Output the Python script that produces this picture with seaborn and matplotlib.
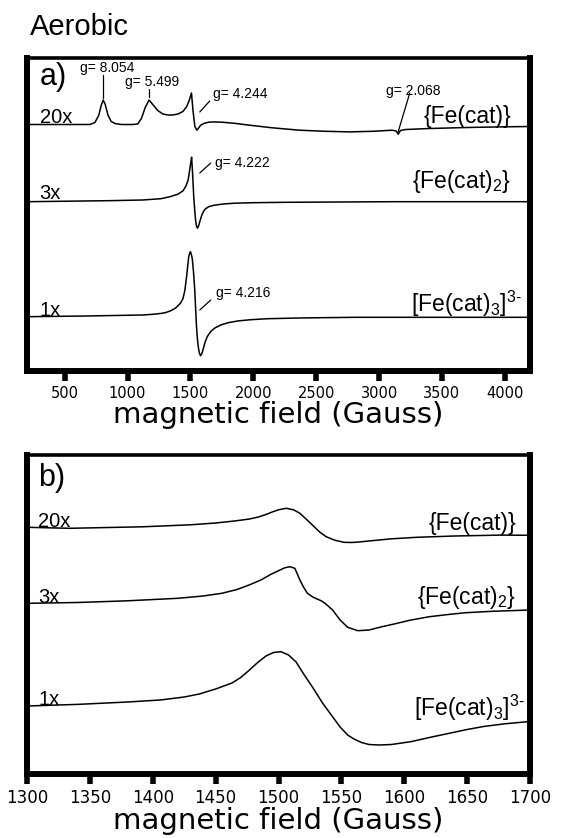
import matplotlib.pyplot as plt
import seaborn as sns

# ---- panel a: full sweep (field in Gauss, intensity in arbitrary units) ----
field_a20 = [200, 500, 700, 740, 770, 790, 806, 822, 845, 870, 900, 950, 1040, 1080,
             1110, 1140, 1171, 1200, 1240, 1280, 1320, 1360, 1400, 1440, 1470, 1490,
             1508, 1520, 1535, 1551, 1565, 1580, 1610, 1640, 1680, 1750, 1850, 1970, 2150,
             2367, 2550, 2763, 2950, 3104, 3135, 3152, 3170, 3212, 3400, 3700, 3951, 4200]
int_a20 = [0, 0, 0, 2, 9, 19, 24.5, 20, 9, 3, 1, 0, 0, 0.5,
           6, 17, 24.5, 20, 14, 10.5, 9.5, 9.5, 10.5, 13, 18, 24,
           31.5, 14, -2, -5.7, -3.5, -0.8, 1.2, 2.2, 2.6, 2.3, 1.2, -0.7, -3.3,
           -5.7, -6.7, -7.4, -6.8, -5.7, -6.5, -9.7, -6, -5, -4, -3, -2.4, -2]

field_a3 = [200, 840, 1120, 1265, 1337, 1400, 1442, 1465, 1482, 1494, 1501, 1509,
            1516, 1526, 1534, 1541, 1548, 1556, 1565, 1575, 1590, 1605, 1620, 1645,
            1690, 1760, 1850, 2000, 2257, 3107, 4200]
int_a3 = [0, 1, 1.7, 3, 5, 7.5, 11, 16, 22, 32, 38, 44.5,
          30, 5, -9, -19, -24.5, -26.5, -24, -19.5, -13.5, -9.5, -7, -5,
          -3.5, -2.3, -1.5, -1, -0.6, 0, 0]

field_a1 = [200, 670, 1120, 1200, 1260, 1300, 1340, 1380, 1420, 1440, 1455, 1469,
            1486, 1495, 1500, 1507, 1514, 1524, 1534, 1541, 1548, 1555, 1562, 1570,
            1580, 1590, 1599, 1615, 1633, 1660, 1690, 1740, 1800, 1880, 1980, 2115,
            2400, 2823, 4200]
int_a1 = [0, 0.7, 1.7, 2.4, 3.2, 4, 5.8, 8.5, 13.4, 18, 26, 40,
          60, 64, 65, 62, 58.4, 45, 26.7, 8, -10, -22, -30, -36,
          -39, -37, -33.3, -26, -20, -15, -11.6, -8.3, -6, -4.2, -3, -2,
          -1.2, -0.6, -0.6]

# ---- panel b: expanded view around g ~ 4.2 ----
field_b20 = [1300, 1334, 1392, 1430, 1450, 1465, 1477, 1484, 1490, 1495, 1500, 1506,
             1512, 1517, 1523, 1528, 1533, 1538, 1545, 1552, 1558, 1563, 1575, 1590,
             1610, 1640, 1677, 1700]
int_b20 = [0, -1, 0.5, 2.5, 4.3, 6.3, 8.3, 10.3, 12.8, 15.3, 17.5, 19,
           17.5, 14, 7, 1, -5, -9.5, -13, -15, -15.2, -14.8, -13.3, -11.5,
           -10, -8.7, -7.8, -8]

field_b3 = [1300, 1340, 1380, 1420, 1440, 1455, 1467, 1477, 1486, 1494, 1500, 1505,
            1509, 1513, 1517, 1520, 1523, 1527, 1530, 1534, 1537, 1543, 1549, 1555,
            1563, 1572, 1582, 1592, 1605, 1620, 1635, 1649, 1670, 1700]
int_b3 = [0, 0.8, 2.5, 5, 7.3, 10, 13.8, 18.5, 23.3, 29, 32.6, 35.5,
          36.6, 35, 23.3, 16, 10, 6.5, 4.7, 2.5, 0, -6.7, -16.7, -24,
          -27.4, -26.7, -23.5, -20.7, -16.8, -13.4, -11.2, -9.4, -8, -6.7]

field_b1 = [1300, 1340, 1380, 1406, 1425, 1437, 1450, 1463, 1470, 1476, 1483, 1490,
            1496, 1502, 1508, 1514, 1520, 1528, 1535, 1542, 1549, 1555, 1560, 1566,
            1572, 1580, 1590, 1606, 1620, 1635, 1650, 1663, 1680, 1700]
int_b1 = [0, 1.6, 4, 6, 9, 12, 17, 23, 28.5, 35, 43, 50,
          53.5, 54.3, 51, 44, 32, 17, 3, -9, -21, -29, -33, -36.5,
          -38.5, -39, -38.5, -35.5, -31.5, -27.5, -23.5, -20.5, -17.8, -15.5]

scales = ["20x", "3x", "1x"]
species = ["{Fe(cat)}", "{Fe(cat)$_2$}", "[Fe(cat)$_3$]$^{3\u2010}$"]
ticks_a = [500, 1000, 1500, 2000, 2500, 3000, 3500, 4000]
ticks_b = [1300, 1350, 1400, 1450, 1500, 1550, 1600, 1650, 1700]

# g-value annotations for panel a: (text, text x, text y)
g_labels = [("g= 8.054", 624, 299), ("g= 5.499", 980, 285), ("g= 4.244", 1677, 273),
            ("g= 2.068", 3056, 276), ("g= 4.222", 1693, 204), ("g= 4.216", 1700, 74)]
g_lines = [((806, 806), (273, 296)), ((1171, 1171), (274, 282)),
           ((1574, 1653), (259, 270)), ((3151, 3244), (239, 278)),
           ((1574, 1661), (198, 208)), ((1574, 1661), (61, 71))]

sns.set_style("white")
plt.rcParams['font.family'] = ['Liberation Sans', 'DejaVu Sans']
plt.rcParams['mathtext.default'] = 'regular'
plt.rcParams['text.color'] = 'black'
plt.rcParams['axes.labelcolor'] = 'black'
plt.rcParams['xtick.color'] = 'black'

W, H = 561, 838
fig = plt.figure(figsize=(W / 100, H / 100), dpi=100)
ax_a = fig.add_axes([27 / W, 1 - 371 / H, 503 / W, 313 / H])
ax_b = fig.add_axes([27 / W, 1 - 774 / H, 503 / W, 319 / H])

offsets_a = [246.5, 169.3, 54.3]
offsets_b = [246.7, 170.7, 68]

for f, v, off in zip([field_a20, field_a3, field_a1], [int_a20, int_a3, int_a1], offsets_a):
    sns.lineplot(x=f, y=[i + off for i in v], ax=ax_a, color='black', lw=1.1, estimator=None)
for f, v, off in zip([field_b20, field_b3, field_b1], [int_b20, int_b3, int_b1], offsets_b):
    sns.lineplot(x=f, y=[i + off for i in v], ax=ax_b, color='black', lw=1.1, estimator=None)

# labels inside panels
ax_a.text(300, 286, "a)", fontsize=22, va='baseline')
ax_b.text(1309, 288, "b)", fontsize=22, va='baseline')
for s, y in zip(scales, [248, 172, 55]):
    ax_a.text(300, y, s, fontsize=14.5, va='baseline')
for s, y in zip(scales, [247, 171, 69]):
    ax_b.text(1309, y, s, fontsize=14.5, va='baseline')
for s, x, y in zip(species, [4053, 4053, 4131], [248, 183, 59]):
    ax_a.text(x, y, s, fontsize=16.5, ha='right', va='baseline')
for s, x, y in zip(species, [1689, 1689, 1696], [244, 170, 58]):
    ax_b.text(x, y, s, fontsize=16.5, ha='right', va='baseline')

for (txt, x, y), (lx, ly) in zip(g_labels, g_lines):
    ax_a.text(x, y, txt, fontsize=10, va='baseline')
    ax_a.plot(lx, ly, color='black', lw=0.9)

for ax, lim, ticks, ylim, tsize in [(ax_a, (200, 4200), ticks_a, (0, 313), 10.5),
                                     (ax_b, (1300, 1700), ticks_b, (0, 319), 12)]:
    ax.set_xlim(lim)
    ax.set_ylim(ylim)
    ax.set_xticks(ticks)
    ax.set_yticks([])
    ax.tick_params(axis='x', direction='out', length=7, width=4, pad=4,
                   labelsize=tsize, bottom=True, colors='black')
    for lbl in ax.get_xticklabels():
        lbl.set_family('DejaVu Sans')
    ax.set_xlabel('magnetic field (Gauss)', fontsize=21, family='DejaVu Sans', labelpad=0)
    for side in ['left', 'right', 'bottom']:
        ax.spines[side].set_linewidth(4.3)
        ax.spines[side].set_color('black')
    ax.spines['top'].set_linewidth(2.6)
    ax.spines['top'].set_color('black')

fig.text(30 / W, 1 - 35 / H, "Aerobic", fontsize=21, va='baseline')

fig.savefig('out.png', dpi=100)
